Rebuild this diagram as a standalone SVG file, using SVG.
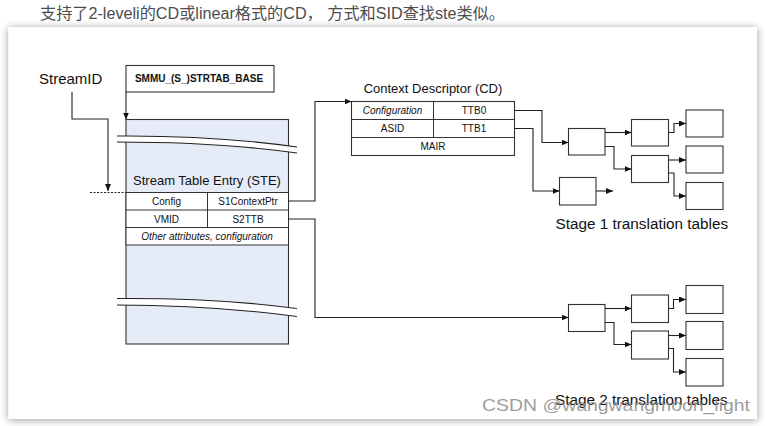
<svg xmlns="http://www.w3.org/2000/svg" width="765" height="426" viewBox="0 0 765 426">
<defs>
<filter id="shadow" x="-5%" y="-5%" width="110%" height="110%">
<feGaussianBlur in="SourceAlpha" stdDeviation="4"/>
<feOffset dx="0" dy="1" result="b"/>
<feComponentTransfer><feFuncA type="linear" slope="0.4"/></feComponentTransfer>
<feMerge><feMergeNode/><feMergeNode in="SourceGraphic"/></feMerge>
</filter>
<marker id="arr" markerUnits="userSpaceOnUse" markerWidth="8" markerHeight="7" refX="7" refY="3" orient="auto">
<path d="M0,0 L7,3 L0,6 z" fill="#111"/>
</marker>
</defs>
<style>
.box{fill:#fff;stroke:#333;stroke-width:1.1}
.ste{fill:#e6ecf7;stroke:#333;stroke-width:1.1}
.cell{fill:none;stroke:#333;stroke-width:1}
.conn{fill:none;stroke:#222;stroke-width:1.1;marker-end:url(#arr)}
.line{fill:none;stroke:#222;stroke-width:1.1}
.t{font-family:"Liberation Sans",Arial,sans-serif;fill:#111}
.s{font-size:10px;text-anchor:middle}
.i{font-style:italic}
.big{font-size:15.3px}
.mid{font-size:13px}
</style>
<rect width="765" height="426" fill="#fff"/>
<text x="40" y="19" font-family="'Liberation Sans','Noto Sans CJK SC',sans-serif" font-size="16" fill="#4d4d4d" textLength="465" lengthAdjust="spacingAndGlyphs">支持了2-leveli的CD或linear格式的CD， 方式和SID查找ste类似。</text>
<rect x="8.5" y="27" width="748.5" height="392" fill="#fff" filter="url(#shadow)"/>

<g id="streamid">
<text class="t" x="39" y="84" font-size="15">StreamID</text>
</g>
<g id="smmu">
<rect class="box" x="126" y="65.5" width="148" height="26.5"/>
<text class="t" x="199" y="82" font-size="10" font-weight="bold" text-anchor="middle">SMMU_(S_)STRTAB_BASE</text>
</g>
<g id="ste">
<rect class="ste" x="126" y="119.5" width="162.5" height="224.5"/>
<path d="M117,136 C180,135.5 240,139 297,147 L297,153 C240,145 180,142 117,142 Z" fill="#fff"/>
<path class="line" d="M117,136 C180,135.5 240,139 297,147 M117,142 C180,142 240,145 297,153" stroke="#444"/>
<path d="M117,298.5 C180,298 240,301 297,308.5 L297,316.5 C240,309 180,305 117,305 Z" fill="#fff"/>
<path class="line" d="M117,298.5 C180,298 240,301 297,308.5 M117,305 C180,305 240,309 297,316.5" stroke="#444"/>
<text class="t mid" x="207" y="185" text-anchor="middle">Stream Table Entry (STE)</text>
<rect x="126" y="192.5" width="162.5" height="52.5" fill="#fff" stroke="#333" stroke-width="1"/>
<path class="cell" d="M126,210 H288.5 M126,227.5 H288.5 M207.5,192.5 V227.5"/>
<text class="t s" x="166.5" y="205">Config</text>
<text class="t s" x="248" y="205">S1ContextPtr</text>
<text class="t s" x="166.5" y="222.5">VMID</text>
<text class="t s" x="248" y="222.5">S2TTB</text>
<text class="t s i" x="207" y="240">Other attributes, configuration</text>
</g>
<g id="cd">
<text class="t mid" x="433" y="93" text-anchor="middle">Context Descriptor (CD)</text>
<rect class="box" x="351.5" y="101.5" width="163" height="54"/>
<path class="cell" d="M351.5,119.5 H514.5 M351.5,137.5 H514.5 M433.5,101.5 V137.5"/>
<text class="t s i" x="392.5" y="114">Configuration</text>
<text class="t s" x="474" y="114">TTB0</text>
<text class="t s" x="392.5" y="132">ASID</text>
<text class="t s" x="474" y="132">TTB1</text>
<text class="t s" x="433" y="150">MAIR</text>
</g>
<g id="stage1">
<rect class="box" x="568.5" y="128.5" width="36.5" height="26.5"/>
<rect class="box" x="631.5" y="119.5" width="37" height="26.5"/>
<rect class="box" x="631.5" y="155.5" width="37" height="27"/>
<rect class="box" x="686" y="110" width="37" height="27"/>
<rect class="box" x="686" y="146" width="37" height="27"/>
<rect class="box" x="686" y="182.5" width="37" height="27"/>
<rect class="box" x="559.5" y="177.5" width="36.5" height="27.5"/>
<text class="t big" x="555.5" y="228.5">Stage 1 translation tables</text>
</g>
<g id="stage2">
<rect class="box" x="568.5" y="304.5" width="36.5" height="27"/>
<rect class="box" x="631.5" y="295" width="37" height="27.5"/>
<rect class="box" x="631.5" y="331" width="37" height="28"/>
<rect class="box" x="686" y="285.5" width="37" height="28"/>
<rect class="box" x="686" y="321.5" width="37" height="28"/>
<rect class="box" x="686" y="358.5" width="37" height="27.5"/>
<text class="t big" x="555" y="405">Stage 2 translation tables</text>
</g>
<g id="connectors">
<path class="line" d="M90,192.5 H126" stroke="#555" stroke-dasharray="2,1.5"/>
<path class="conn" d="M72,92 V119 H108 V191"/>
<path class="conn" d="M126,92 V119.5"/>
<path class="conn" d="M288.5,201 H315 V101.5 H351.5"/>
<path class="conn" d="M288.5,219 H315 V317.5 H568.5"/>
<path class="conn" d="M514.5,110.5 H542 V142.5 H568.5"/>
<path class="conn" d="M514.5,128.5 H533 V191 H559.5"/>
<path class="conn" d="M596,191 H613"/>
<path class="conn" d="M605,132.5 H631.5"/>
<path class="conn" d="M605,146.5 H614 V169 H631.5"/>
<path class="conn" d="M668.5,132.5 H674 V123.5 H686"/>
<path class="conn" d="M668.5,160 H686"/>
<path class="conn" d="M668.5,173 H674 V196 H686"/>
<path class="conn" d="M605,308.5 H631.5"/>
<path class="conn" d="M605,322.5 H614 V344.5 H631.5"/>
<path class="conn" d="M668.5,308.5 H673.5 V299.5 H686"/>
<path class="conn" d="M668.5,335.5 H686"/>
<path class="conn" d="M668.5,348.5 H673.5 V372 H686"/>
</g>
<text x="482" y="411" font-family="'Liberation Sans',Arial,sans-serif" font-size="17" fill="#8a8a8a" fill-opacity="0.85" textLength="268" lengthAdjust="spacingAndGlyphs">CSDN @wangwangmoon_light</text>
</svg>
